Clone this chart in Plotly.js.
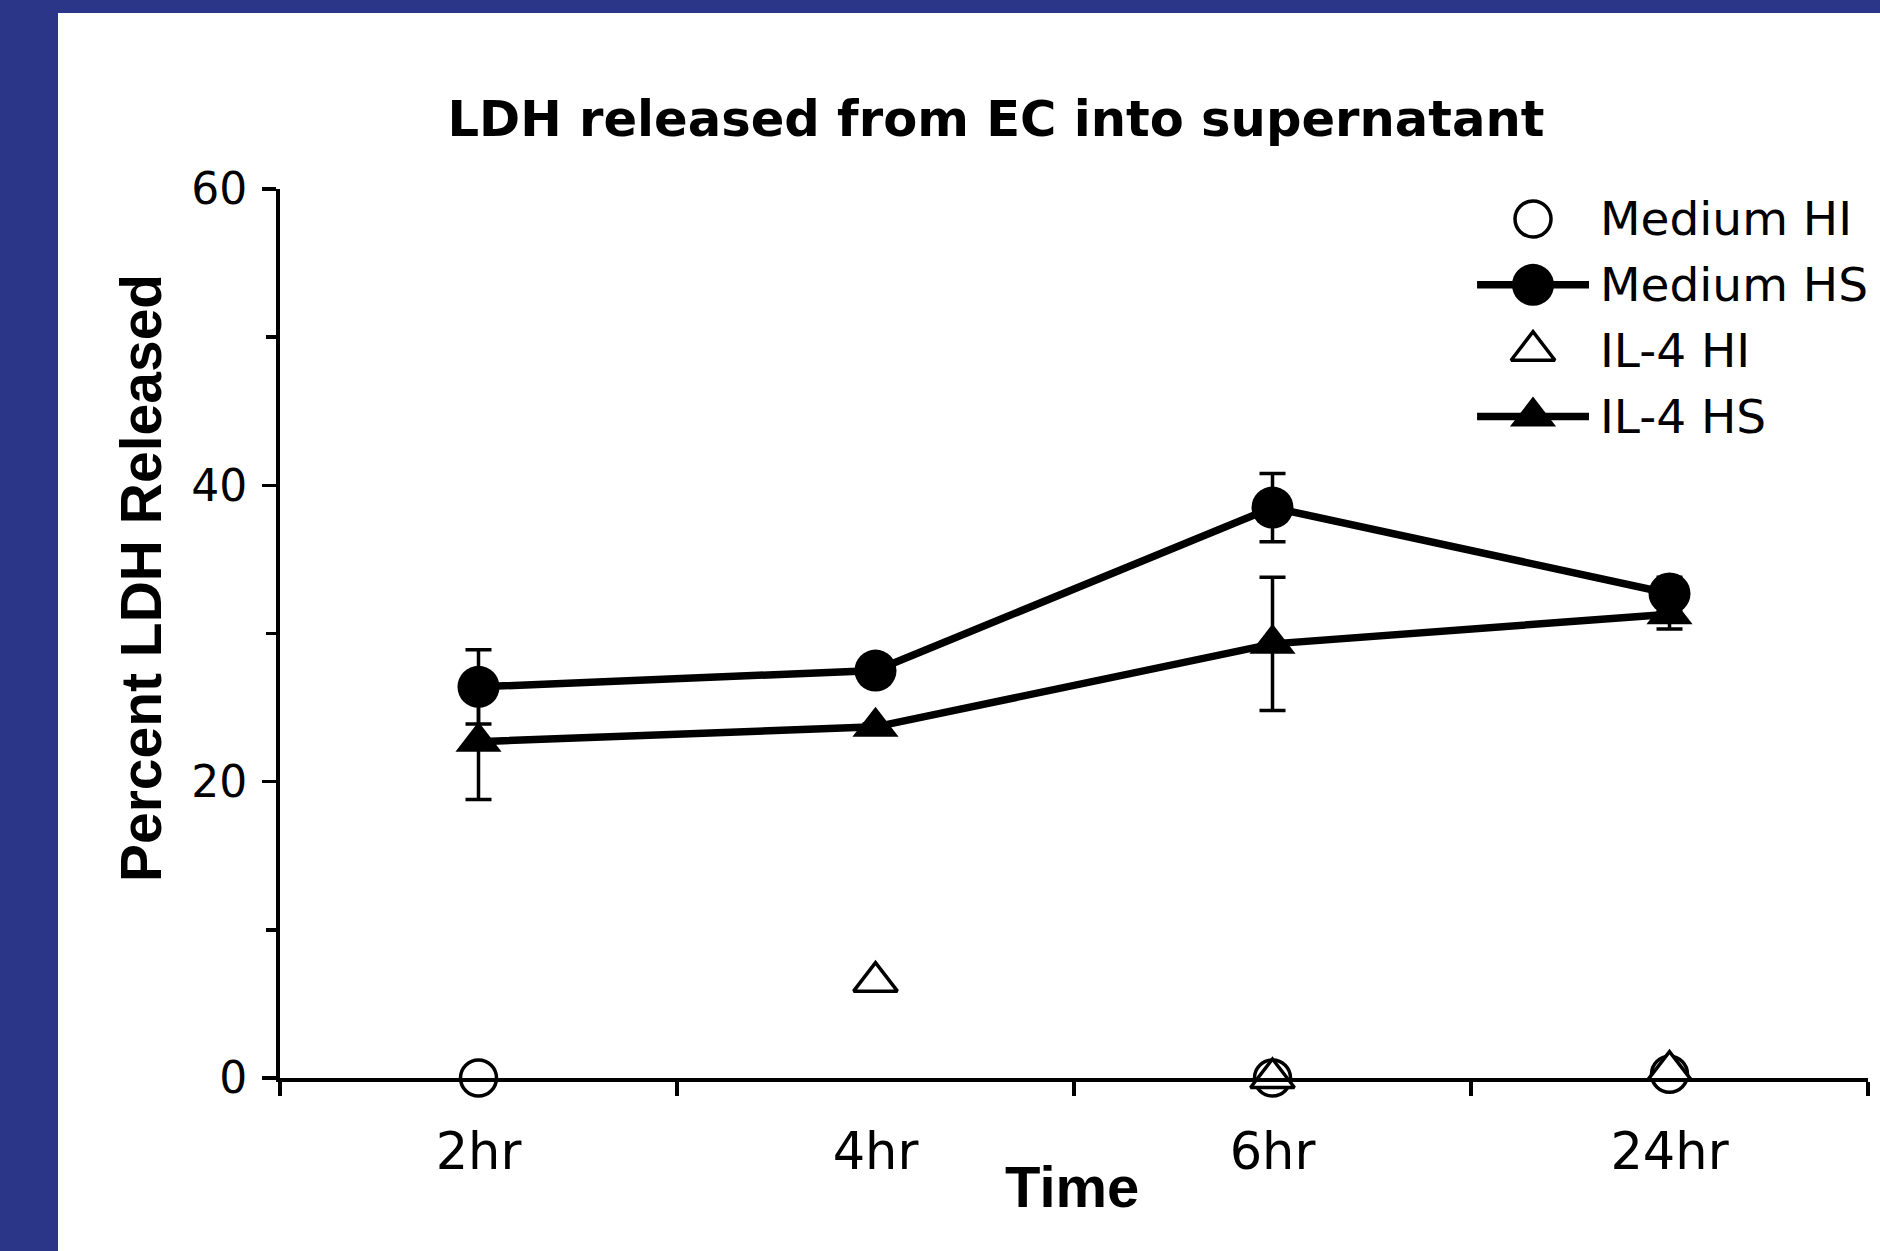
<!DOCTYPE html>
<html>
<head>
<meta charset="utf-8">
<script src="https://cdn.plot.ly/plotly-3.0.1.min.js"></script>
<style>
  html, body { margin: 0; padding: 0; width: 1880px; height: 1251px; background: #2B3688; overflow: hidden; }
  #chart { position: absolute; left: 58px; top: 13px; width: 1822px; height: 1238px; background: #ffffff; }
</style>
</head>
<body>
<div id="chart"></div>
<script>
// ---- data ----
const categories = ['2hr', '4hr', '6hr', '24hr'];
const mediumHI = [0, null, 0, 0.25];
const mediumHS = [26.4, 27.5, 38.5, 32.7];
const mediumHSErr = [2.5, 0.5, 2.3, 1.1];
const il4HI = [null, 6.5, 0, 0.5];
const il4HS = [22.7, 23.7, 29.3, 31.3];
const il4HSErr = [3.9, 0.2, 4.5, 1.0];

const seriesNames = ['Medium HI', 'Medium HS', 'IL-4 HI', 'IL-4 HS'];
const legendRows = [0, 1, 2, 3];
const legendLineX = [0, 1];
const legendMarkX = [0.5];

const chartTitle = 'LDH released from EC into supernatant';
const yTitle = 'Percent LDH Released';
const xTitle = 'Time';

// ---- styles ----
const LW = 7.5;
const openCircle = {symbol: 'circle', size: 36, color: '#ffffff', line: {color: '#000', width: 3.5}};
const fillCircle = {symbol: 'circle', size: 42, color: '#000', line: {width: 0}};
const openTri = {symbol: 'triangle-up', size: 38, color: '#ffffff', line: {color: '#000', width: 3.5}};
const fillTri = {symbol: 'triangle-up', size: 40, color: '#000', line: {width: 0}};
const errStyle = {type: 'data', visible: true, color: '#000', thickness: 3.5, width: 13};

const traces = [
  {x: categories, y: mediumHI, name: seriesNames[0], mode: 'markers', marker: openCircle, cliponaxis: false, showlegend: false},
  {x: categories, y: mediumHS, name: seriesNames[1], mode: 'lines+markers', line: {color: '#000', width: LW}, marker: fillCircle,
   error_y: Object.assign({array: mediumHSErr}, errStyle), cliponaxis: false, showlegend: false},
  {x: categories, y: il4HI, name: seriesNames[2], mode: 'markers', marker: openTri, cliponaxis: false, showlegend: false},
  {x: categories, y: il4HS, name: seriesNames[3], mode: 'lines+markers', line: {color: '#000', width: LW}, marker: fillTri,
   error_y: Object.assign({array: il4HSErr}, errStyle), cliponaxis: false, showlegend: false}
];

// ---- custom legend drawn on an overlay axis pair ----
const legendMarkers = [openCircle, fillCircle, openTri, fillTri];
const legendHasLine = [false, true, false, true];
const annotations = [];
legendRows.forEach((row, i) => {
  if (legendHasLine[i]) {
    traces.push({x: legendLineX, y: legendLineX.map(() => row), xaxis: 'x2', yaxis: 'y2', mode: 'lines',
      line: {color: '#000', width: LW}, showlegend: false, hoverinfo: 'skip', cliponaxis: false});
  }
  traces.push({x: legendMarkX, y: [row], xaxis: 'x2', yaxis: 'y2', mode: 'markers',
    marker: legendMarkers[i], showlegend: false, hoverinfo: 'skip', cliponaxis: false});
  annotations.push({xref: 'x2', yref: 'y2', x: 1.08, y: row, xanchor: 'left', yanchor: 'middle',
    text: seriesNames[i], showarrow: false, font: {family: 'DejaVu Sans, Verdana, sans-serif', size: 47, color: '#000'}});
});

annotations.push({xref: 'paper', yref: 'paper', x: 0.4987, y: -0.1226, xanchor: 'center', yanchor: 'middle',
  text: '<b>' + xTitle + '</b>', showarrow: false,
  font: {family: 'Liberation Sans, Arial, sans-serif', size: 58, color: '#000'}});
annotations.push({xref: 'paper', yref: 'paper', x: -0.0875, y: 0.5624, xanchor: 'center', yanchor: 'middle',
  textangle: -90, text: '<b>' + yTitle + '</b>', showarrow: false,
  font: {family: 'Liberation Sans, Arial, sans-serif', size: 57, color: '#000'}});

const layout = {
  width: 1822, height: 1238,
  paper_bgcolor: '#ffffff', plot_bgcolor: 'rgba(0,0,0,0)',
  margin: {l: 222, r: 12, t: 176, b: 173, pad: 0},
  showlegend: false,
  title: {text: '<b>' + chartTitle + '</b>', xref: 'container', yref: 'container', x: 0.5148, y: 0.9144,
    xanchor: 'center', yanchor: 'middle',
    font: {family: 'DejaVu Sans, Verdana, sans-serif', size: 49.6, color: '#000'}},
  xaxis: {
    type: 'category', categoryorder: 'array', categoryarray: categories,
    range: [-0.5, 3.5], tickson: 'boundaries',
    showline: true, linecolor: '#000', linewidth: 4, showgrid: false, zeroline: false,
    ticks: 'outside', ticklen: 14, tickwidth: 3.5, tickcolor: '#000', ticklabelstandoff: 26,
    tickfont: {family: 'DejaVu Sans, Verdana, sans-serif', size: 51, color: '#000'},
    fixedrange: true
  },
  yaxis: {
    range: [0, 60], tick0: 0, dtick: 20,
    showline: true, linecolor: '#000', linewidth: 4, showgrid: false, zeroline: false,
    ticks: 'outside', ticklen: 14, tickwidth: 3.5, tickcolor: '#000', ticklabelstandoff: 6,
    minor: {dtick: 10, ticks: 'outside', ticklen: 10, tickwidth: 3.5, tickcolor: '#000', showgrid: false},
    tickfont: {family: 'DejaVu Sans, Verdana, sans-serif', size: 44, color: '#000'},
    fixedrange: true
  },
  xaxis2: {domain: [0.7538, 0.9653], anchor: 'y2', range: [0, 3], visible: false, fixedrange: true},
  yaxis2: {domain: [0.7218, 0.9885], anchor: 'x2', range: [3.3, -0.3], visible: false, fixedrange: true},
  annotations: annotations
};

Plotly.newPlot('chart', traces, layout, {staticPlot: true, displayModeBar: false});
</script>
</body>
</html>
